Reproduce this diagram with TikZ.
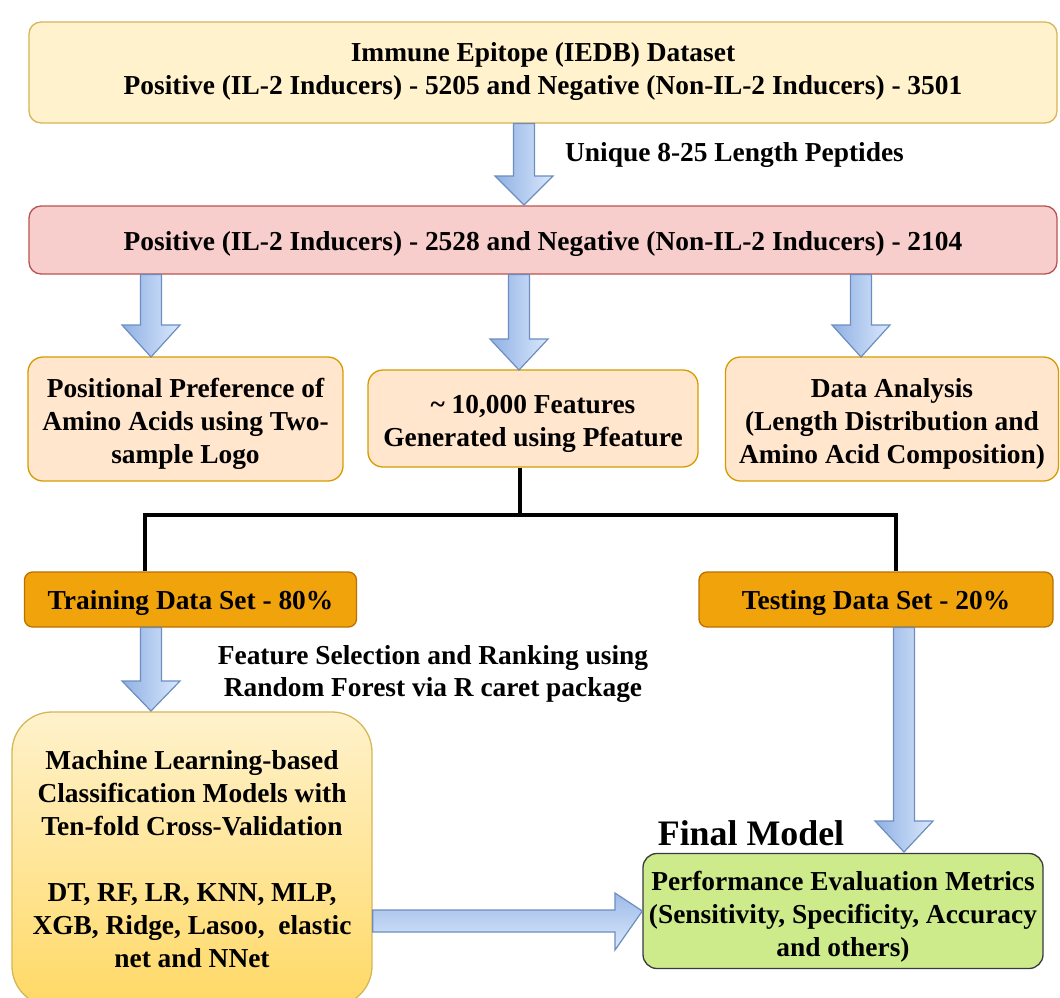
\documentclass[tikz,border=0pt]{standalone}
\usepackage{fontspec}
\setmainfont{Liberation Serif}
\usetikzlibrary{calc}
\definecolor{ylfill}{HTML}{FFF2CC}
\definecolor{yldraw}{HTML}{D6B656}
\definecolor{ylbot}{HTML}{FFD966}
\definecolor{pkfill}{HTML}{F8CECC}
\definecolor{pkdraw}{HTML}{B85450}
\definecolor{orfill}{HTML}{FFE6CC}
\definecolor{ordraw}{HTML}{D79B00}
\definecolor{trfill}{HTML}{F0A30A}
\definecolor{trdraw}{HTML}{BD7000}
\definecolor{gnfill}{HTML}{CDEB8B}
\definecolor{gndraw}{HTML}{36393D}
\definecolor{blight}{HTML}{DAE8FC}
\definecolor{bdark}{HTML}{8FB0E3}
\definecolor{bdraw}{HTML}{6C8EBF}
\tikzset{
  txt/.style={font=\fontsize{27.5}{33}\selectfont\bfseries, align=center, inner sep=0pt},
  box/.style={rounded corners=#1, line width=1.3bp, inner sep=0pt},
  box/.default=12bp,
  conn/.style={line width=4bp, black},
  barrowv/.style={left color=bdark, right color=blight, draw=bdraw, line width=1.2bp},
  barrowh/.style={top color=bdark!80!blight, bottom color=blight, draw=bdraw, line width=1.2bp},
}
% vertical block arrow: x, ytop, ybase, ytip
\newcommand{\BlkDown}[4]{%
  \shadedraw[barrowv] (#1-10.5,#2) -- (#1+10.5,#2) -- (#1+10.5,#3) -- (#1+29,#3) -- (#1,#4) -- (#1-29,#3) -- (#1-10.5,#3) -- cycle;}
\begin{document}
\begin{tikzpicture}[x=1bp,y=-1bp]
\useasboundingbox (0,0) rectangle (1060,998);

% boxes
\node[box, fill=ylfill, draw=yldraw, minimum width=1028bp, minimum height=101bp] (top) at (543,72.5) {};
\node[txt] (topT) at (543,71.5)
  {Immune Epitope (IEDB) Dataset\\Positive (IL-2 Inducers) - 5205 and Negative (Non-IL-2 Inducers) - 3501};
\node[box, fill=pkfill, draw=pkdraw, minimum width=1028bp, minimum height=68bp] (pink) at (543,240) {};
\node[txt] (pinkT) at (543,244.5)
  {Positive (IL-2 Inducers) - 2528 and Negative (Non-IL-2 Inducers) - 2104};
\node[box=15bp, fill=orfill, draw=ordraw, minimum width=315bp, minimum height=124bp] (left) at (185.5,419) {};
\node[txt] (leftT) at (185.5,424)
  {Positional Preference of\\Amino Acids using Two-\\sample Logo};
\node[box=15bp, fill=orfill, draw=ordraw, minimum width=330bp, minimum height=97bp] (mid) at (533,418.5) {};
\node[txt] (midT) at (533,424)
  {\textasciitilde\ 10,000 Features\\Generated using Pfeature};
\node[box=15bp, fill=orfill, draw=ordraw, minimum width=333bp, minimum height=124bp] (right) at (892,419) {};
\node[txt] (rightT) at (892,424)
  {Data Analysis\\(Length Distribution and\\Amino Acid Composition)};
\node[box=8bp, fill=trfill, draw=trdraw, minimum width=332bp, minimum height=55bp] (train) at (190.5,599.5) {};
\node[txt] (trainT) at (190.5,603) {Training Data Set - 80\%};
\node[box=8bp, fill=trfill, draw=trdraw, minimum width=354bp, minimum height=55bp] (test) at (876,599.5) {};
\node[txt] (testT) at (876,603) {Testing Data Set - 20\%};
\node[box=40bp, top color=ylfill, bottom color=ylbot, draw=yldraw, minimum width=360bp, minimum height=294bp] (ml) at (192,859) {};
\node[txt] (mlT) at (192,859)
  {Machine Learning-based\\Classification Models with\\Ten-fold Cross-Validation\\ \mbox{}\\DT, RF, LR, KNN, MLP,\\XGB, Ridge, Lasoo,\ \ elastic\\net and NNet};
\node[box=14bp, fill=gnfill, draw=gndraw, minimum width=400bp, minimum height=115bp] (final) at (843,911) {};
\node[txt] (finalT) at (843,917)
  {Performance Evaluation Metrics\\(Sensitivity, Specificity, Accuracy\\and others)};
\node[txt, font=\fontsize{36}{40}\selectfont\bfseries] (fm) at (751,833) {Final Model};

% labels
\node[txt, anchor=west] (lab1) at (565,155) {Unique 8-25 Length Peptides};
\node[txt] (lab2) at (433,674) {Feature Selection and Ranking using\\Random Forest via R caret package};

% block arrows
\BlkDown{524}{123.5}{176}{205}
\BlkDown{151}{274.5}{325}{357}
\BlkDown{519}{274.5}{339}{370}
\BlkDown{861}{274.5}{325}{357}
\BlkDown{151}{627.5}{681}{711}
\BlkDown{904}{627.5}{821}{852}
\shadedraw[barrowh] (ml.east |- 0,910) -- (615,910) -- (615,893) -- (final.west) -- (615,950) -- (615,932) -- (ml.east |- 0,932) -- cycle;

% split connector
\coordinate (jc) at (520,515);
\coordinate (jl) at (145,515);
\coordinate (jr) at (896,515);
\draw[conn] (jc |- mid.south) -- (jc);
\draw[conn] (train.north -| jl) -- (jl) -- (jr) -- (test.north -| jr);
\end{tikzpicture}
\end{document}
